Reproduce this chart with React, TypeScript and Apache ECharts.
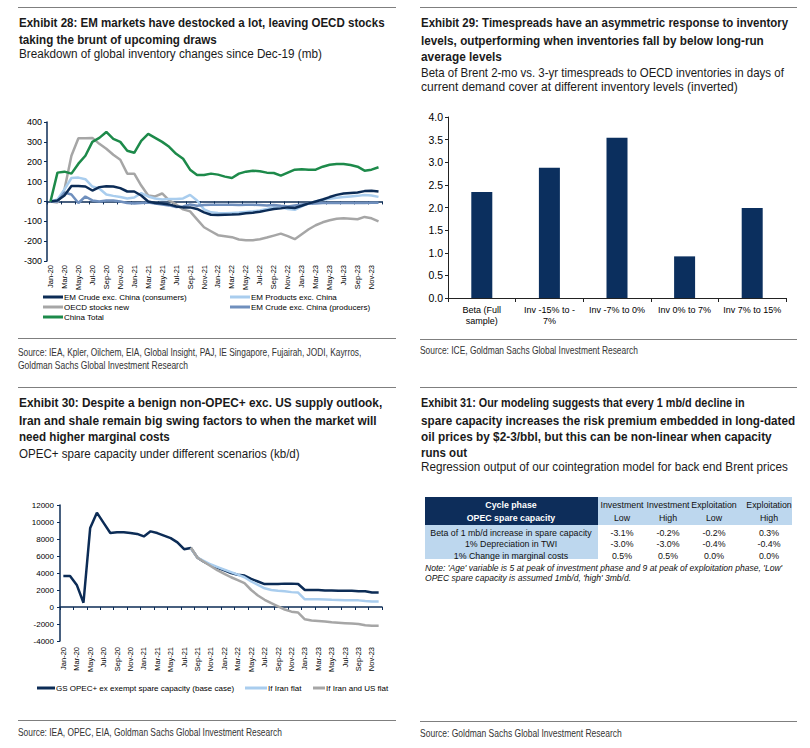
import React, { useEffect, useRef } from 'react';
import * as echarts from 'echarts';

const FONT = '"Liberation Sans", Arial, Helvetica, sans-serif';
const NAVY = '#0c2c56';

// ---------- Exhibit 28 ----------
const months = [
  'Jan-20','Feb-20','Mar-20','Apr-20','May-20','Jun-20','Jul-20','Aug-20','Sep-20','Oct-20','Nov-20','Dec-20',
  'Jan-21','Feb-21','Mar-21','Apr-21','May-21','Jun-21','Jul-21','Aug-21','Sep-21','Oct-21','Nov-21','Dec-21',
  'Jan-22','Feb-22','Mar-22','Apr-22','May-22','Jun-22','Jul-22','Aug-22','Sep-22','Oct-22','Nov-22','Dec-22',
  'Jan-23','Feb-23','Mar-23','Apr-23','May-23','Jun-23','Jul-23','Aug-23','Sep-23','Oct-23','Nov-23','Dec-23',
];
const emCrudeConsumers = [0,5,30,78,78,75,55,72,77,75,67,50,50,30,0,-8,-10,-15,-25,-30,-30,-38,-55,-67,-68,-67,-66,-64,-60,-57,-52,-45,-38,-35,-30,-33,-22,-10,0,10,22,33,40,43,45,52,54,50];
const emProducts = [0,10,60,118,120,112,75,65,35,28,22,15,20,42,25,15,10,12,12,15,33,5,-40,-55,-58,-60,-58,-56,-53,-50,-45,-38,-30,-28,-38,-42,-25,-10,0,8,13,18,22,25,28,32,30,23];
const oecdStocks = [0,-5,60,230,318,318,320,290,265,235,210,140,140,80,30,25,40,5,-15,-40,-50,-90,-130,-150,-170,-175,-180,-192,-195,-195,-190,-182,-172,-162,-175,-190,-165,-140,-120,-105,-95,-87,-85,-87,-90,-78,-85,-100];
const emCrudeProducers = [0,0,45,35,-8,25,5,0,5,5,0,-8,-10,-8,-5,-10,-15,-20,-28,-25,-15,-22,-18,-17,-17,-17,-17,-18,-17,-17,-18,-20,-18,-22,-25,-20,-15,-12,-10,-8,-8,-8,-8,-8,-8,-8,-7,-7];
const chinaTotal = [0,145,150,140,190,230,300,320,350,315,300,255,245,305,340,320,300,275,240,215,160,133,133,140,135,125,118,140,150,155,152,145,143,130,145,160,162,160,160,175,185,188,188,183,175,155,160,172];

// ---------- Exhibit 29 ----------
const betaCategories = ['Beta (Full\nsample)', 'Inv -15% to -\n7%', 'Inv -7% to 0%', 'Inv 0% to 7%', 'Inv 7% to 15%'];
const betaValues = [2.34, 2.88, 3.54, 0.92, 1.99];

// ---------- Exhibit 30 ----------
const spareBase = [3650,3650,2600,500,9300,11100,9900,8700,8800,8800,8700,8600,8300,8900,8700,8400,8100,7600,6800,6950,5800,5300,4900,4600,4300,4000,3800,3700,3300,3000,2700,2700,2700,2750,2750,2700,2000,2000,2000,1950,1950,1900,1900,1900,1850,1850,1700,1700];
const spareIranFlat = [null,null,null,null,null,null,null,null,null,null,null,null,null,null,null,null,null,null,null,6950,5800,5400,5000,4700,4400,4100,3800,3500,3000,2600,2200,2000,1900,1850,1750,1700,900,900,900,880,850,830,800,800,780,700,650,650];
const spareIranUsFlat = [null,null,null,null,null,null,null,null,null,null,null,null,null,null,null,null,null,null,null,7000,5800,5300,4800,4300,3900,3500,3150,2800,2000,1350,850,450,80,-300,-550,-650,-1450,-1600,-1650,-1700,-1800,-1850,-1900,-1950,-2000,-2150,-2200,-2200];

// ---------- Exhibit 31 ----------
const phaseHeaders = ['Investment', 'Investment', 'Exploitation', 'Exploitation'];
const capacityHeaders = ['Low', 'High', 'Low', 'High'];
const rowLabels = ['Beta of 1 mb/d increase in spare capacity', '1% Depreciation in TWI', '1% Change in marginal costs'];
const rowBeta = ['-3.1%', '-0.2%', '-0.2%', '0.3%'];
const rowTwi = ['-3.0%', '-3.0%', '-0.4%', '-0.4%'];
const rowCosts = ['0.5%', '0.5%', '0.0%', '0.0%'];

let measureCtx: CanvasRenderingContext2D | null = null;
function textWidth(t: string, font: string) {
  if (!measureCtx) measureCtx = document.createElement('canvas').getContext('2d');
  measureCtx!.font = font;
  return measureCtx!.measureText(t).width;
}
function fontOf(size: number, bold?: boolean, italic?: boolean) {
  return `${italic ? 'italic' : 'normal'} ${bold ? 'bold' : 'normal'} ${size}px ${FONT}`;
}

type TOpt = { size: number; bold?: boolean; italic?: boolean; color?: string; align?: string; w?: number; sx?: number };
function T(text: string, x: number, y: number, o: TOpt) {
  const weight = o.bold ? 'bold' : 'normal';
  const fstyle = o.italic ? 'italic' : 'normal';
  const sx = o.w ? o.w / textWidth(text, fontOf(o.size, o.bold, o.italic)) : (o.sx ?? 1);
  return {
    type: 'text', x, y, scaleX: sx, silent: true,
    style: {
      text, fontSize: o.size, fontWeight: weight, fontStyle: fstyle, fontFamily: FONT,
      fill: o.color ?? '#1a1a1a', textAlign: o.align ?? 'left', textVerticalAlign: 'middle',
    },
  };
}
function Rule(x1: number, x2: number, y: number) {
  return { type: 'line', silent: true, shape: { x1, y1: y, x2, y2: y }, style: { stroke: '#7f7f7f', lineWidth: 1 } };
}
function Box(x: number, y: number, w: number, h: number, fill: string) {
  return { type: 'rect', silent: true, shape: { x, y, width: w, height: h }, style: { fill } };
}

function buildGraphics() {
  const g: any[] = [];
  const TITLE = 13, SUB = 12, SRC = 10.5;
  // top rules
  g.push(Rule(18, 396, 7.5), Rule(420, 797, 7.5), Rule(18, 396, 387.5), Rule(420, 797, 387.5));
  // Exhibit 28
  g.push(T('Exhibit 28: EM markets have destocked a lot, leaving OECD stocks', 19, 23, { size: TITLE, bold: true, w: 366 }));
  g.push(T('taking the brunt of upcoming draws', 19, 40, { size: TITLE, bold: true, w: 198 }));
  g.push(T('Breakdown of global inventory changes since Dec-19 (mb)', 19, 54, { size: SUB, w: 303 }));
  g.push(Rule(18, 396, 338.5));
  g.push(T('Source: IEA, Kpler, Oilchem, EIA, Global Insight, PAJ, IE Singapore, Fujairah, JODI, Kayrros,', 18, 352, { size: SRC, w: 344, color: '#333' }));
  g.push(T('Goldman Sachs Global Investment Research', 18, 365, { size: SRC, w: 170, color: '#333' }));
  // Exhibit 29
  g.push(T('Exhibit 29: Timespreads have an asymmetric response to inventory', 421, 23, { size: TITLE, bold: true, w: 367 }));
  g.push(T('levels, outperforming when inventories fall by below long-run', 421, 41, { size: TITLE, bold: true, w: 343 }));
  g.push(T('average levels', 421, 57, { size: TITLE, bold: true, w: 81 }));
  g.push(T('Beta of Brent 2-mo vs. 3-yr timespreads to OECD inventories in days of', 421, 72, { size: SUB, w: 363 }));
  g.push(T('current demand cover at different inventory levels (inverted)', 421, 87, { size: SUB, w: 317 }));
  g.push(Rule(420, 797, 339.5));
  g.push(T('Source: ICE, Goldman Sachs Global Investment Research', 420, 350, { size: SRC, w: 218, color: '#333' }));
  // Exhibit 30
  g.push(T('Exhibit 30: Despite a benign non-OPEC+ exc. US supply outlook,', 19, 403, { size: TITLE, bold: true, w: 364 }));
  g.push(T('Iran and shale remain big swing factors to when the market will', 19, 421, { size: TITLE, bold: true, w: 358 }));
  g.push(T('need higher marginal costs', 19, 437, { size: TITLE, bold: true, w: 151 }));
  g.push(T('OPEC+ spare capacity under different scenarios (kb/d)', 19, 453, { size: SUB, w: 281 }));
  g.push(Rule(18, 396, 720.5));
  g.push(T('Source: IEA, OPEC, EIA, Goldman Sachs Global Investment Research', 18, 732, { size: SRC, w: 264, color: '#333' }));
  // Exhibit 31
  g.push(T('Exhibit 31: Our modeling suggests that every 1 mb/d decline in', 421, 403, { size: TITLE, bold: true, w: 324 }));
  g.push(T('spare capacity increases the risk premium embedded in long-dated', 421, 421, { size: TITLE, bold: true, w: 374 }));
  g.push(T('oil prices by $2-3/bbl, but this can be non-linear when capacity', 421, 437, { size: TITLE, bold: true, w: 351 }));
  g.push(T('runs out', 421, 453, { size: TITLE, bold: true, w: 46 }));
  g.push(T('Regression output of our cointegration model for back end Brent prices', 421, 467, { size: SUB, w: 367 }));
  g.push(Rule(420, 797, 721.5));
  g.push(T('Source: Goldman Sachs Global Investment Research', 420, 733, { size: SRC, w: 202, color: '#333' }));

  // table
  const LB = '#bdd7ee';
  g.push(Box(425, 497, 173, 28, '#0d2d5a'));
  g.push(Box(598, 497, 194, 28, LB));
  g.push(Box(425, 525, 173, 34, LB));
  const cx = [622, 668, 714, 769];
  const TS = 8.8;
  g.push(T('Cycle phase', 511, 505, { size: TS, bold: true, color: '#fff', align: 'center' }));
  g.push(T('OPEC spare capacity', 511, 518, { size: TS, bold: true, color: '#fff', align: 'center' }));
  phaseHeaders.forEach((h, j) => g.push(T(h, cx[j], 505, { size: TS, align: 'center', color: '#111' })));
  capacityHeaders.forEach((h, j) => g.push(T(h, cx[j], 518, { size: TS, align: 'center', color: '#111' })));
  const rows = [rowBeta, rowTwi, rowCosts];
  const ry = [532.5, 544, 555.5];
  rowLabels.forEach((l, i) => g.push(T(l, 511, ry[i], { size: TS, align: 'center', color: '#111' })));
  rows.forEach((r, i) => r.forEach((v, j) => g.push(T(v, cx[j], ry[i], { size: TS, align: 'center', color: '#111' }))));
  const note1 = "Note: 'Age' variable is 5 at peak of investment phase and 9 at peak of exploitation phase, 'Low'";
  const note2 = "OPEC spare capacity is assumed 1mb/d, 'high' 3mb/d.";
  const noteSx = 358 / textWidth(note1, fontOf(9, false, true));
  g.push(T(note1, 425, 568, { size: 9, italic: true, sx: noteSx, color: '#111' }));
  g.push(T(note2, 425, 578, { size: 9, italic: true, sx: noteSx, color: '#111' }));
  return g;
}

function legendItem(name: string, left: number, top: number, w: number) {
  return {
    data: [name], left, top, padding: 0, itemWidth: w, itemHeight: 3, icon: 'rect', itemGap: 0,
    selectedMode: false,
    textStyle: { fontSize: 8, fontFamily: FONT, color: '#000', padding: [0, 0, 0, -4] },
  };
}

function line(name: string, data: any[], color: string, xi: number, yi: number, z = 2) {
  return {
    type: 'line', name, data, xAxisIndex: xi, yAxisIndex: yi, showSymbol: false, symbol: 'none',
    lineStyle: { color, width: 2.5 }, itemStyle: { color }, silent: true, z,
  };
}

function buildOption(): any {
  const lbl = { fontFamily: FONT, color: '#000' };
  return {
    animation: false,
    backgroundColor: '#fff',
    graphic: { elements: buildGraphics() },
    grid: [
      { left: 47, top: 122, width: 335, height: 139, outerBoundsMode: 'none' },
      { left: 448, top: 117, width: 338, height: 181, outerBoundsMode: 'none' },
      { left: 60, top: 505, width: 322, height: 136, outerBoundsMode: 'none' },
    ],
    legend: [
      legendItem('EM Crude exc. China (consumers)', 43, 293, 20),
      legendItem('EM Products exc. China', 230, 293, 20),
      legendItem('OECD stocks new', 43, 303, 20),
      legendItem('EM Crude exc. China (producers)', 230, 303, 20),
      legendItem('China Total', 43, 313, 20),
      legendItem('GS OPEC+ ex exempt spare capacity (base case)', 37, 684, 18),
      legendItem('If Iran flat', 245, 684, 22),
      legendItem('If Iran and US flat', 313, 684, 12),
    ],
    xAxis: [
      {
        gridIndex: 0, type: 'category', data: months, position: 'bottom',
        axisLine: { show: false, onZero: false }, axisTick: { show: false },
        axisLabel: { ...lbl, interval: 1, rotate: 90, fontSize: 7.5, margin: 4 },
      },
      {
        gridIndex: 0, type: 'category', data: months, position: 'bottom',
        axisLine: { show: true, onZero: true, lineStyle: { color: NAVY, width: 1.5 } },
        axisTick: { show: true, interval: 1, length: 3, lineStyle: { color: NAVY } },
        axisLabel: { show: false },
      },
      {
        gridIndex: 1, type: 'category', data: betaCategories,
        axisLine: { show: true, lineStyle: { color: '#222', width: 1 } },
        axisTick: { show: true, length: 4, lineStyle: { color: '#222' } },
        axisLabel: { ...lbl, interval: 0, fontSize: 9, lineHeight: 11, margin: 6 },
      },
      {
        gridIndex: 2, type: 'category', data: months, position: 'bottom',
        axisLine: { show: false, onZero: false }, axisTick: { show: false },
        axisLabel: { ...lbl, interval: 1, rotate: 90, fontSize: 7.5, margin: 6 },
      },
      {
        gridIndex: 2, type: 'category', data: months, position: 'bottom',
        axisLine: { show: true, onZero: true, lineStyle: { color: NAVY, width: 1.5 } },
        axisTick: { show: true, interval: 1, length: 3, lineStyle: { color: NAVY } },
        axisLabel: { show: false },
      },
    ],
    yAxis: [
      {
        gridIndex: 0, type: 'value', min: -300, max: 400, interval: 100,
        axisLine: { show: true, lineStyle: { color: NAVY, width: 1.5 } },
        axisTick: { show: true, length: 3, lineStyle: { color: NAVY } },
        axisLabel: { ...lbl, fontSize: 9, margin: 5, formatter: (v: number) => String(v) },
        splitLine: { show: false },
      },
      {
        gridIndex: 1, type: 'value', min: 0, max: 4, interval: 0.5,
        axisLine: { show: true, lineStyle: { color: '#222', width: 1 } },
        axisTick: { show: true, length: 3, lineStyle: { color: '#222' } },
        axisLabel: { ...lbl, fontSize: 10.5, margin: 5, formatter: (v: number) => v.toFixed(1) },
        splitLine: { show: false },
      },
      {
        gridIndex: 2, type: 'value', min: -4000, max: 12000, interval: 2000,
        axisLine: { show: true, lineStyle: { color: NAVY, width: 1.5 } },
        axisTick: { show: true, length: 3, lineStyle: { color: NAVY } },
        axisLabel: { ...lbl, fontSize: 8, margin: 6, formatter: (v: number) => String(v) },
        splitLine: { show: false },
      },
    ],
    series: [
      line('OECD stocks new', oecdStocks, '#a6a6a6', 0, 0),
      line('EM Products exc. China', emProducts, '#a9cdee', 0, 0),
      line('EM Crude exc. China (producers)', emCrudeProducers, '#6f8fbd', 0, 0),
      line('EM Crude exc. China (consumers)', emCrudeConsumers, NAVY, 0, 0),
      line('China Total', chinaTotal, '#1d8a4a', 0, 0),
      {
        type: 'bar', name: 'Beta', data: betaValues, xAxisIndex: 2, yAxisIndex: 1, barWidth: 21,
        itemStyle: { color: '#0b2f5e' }, silent: true,
      },
      line('GS OPEC+ ex exempt spare capacity (base case)', spareBase, NAVY, 3, 2),
      line('If Iran flat', spareIranFlat, '#a9cdee', 3, 2),
      line('If Iran and US flat', spareIranUsFlat, '#a6a6a6', 3, 2),
    ],
  };
}

export default function App() {
  const ref = useRef<HTMLDivElement>(null);
  useEffect(() => {
    document.body.style.margin = '0';
    const chart = echarts.init(ref.current!, null, { renderer: 'svg', width: 810, height: 748 });
    chart.setOption(buildOption());
    return () => chart.dispose();
  }, []);
  return (
    <div
      ref={ref}
      style={{ width: 810, height: 748, position: 'absolute', left: 0, top: 0, background: '#fff' }}
    />
  );
}
